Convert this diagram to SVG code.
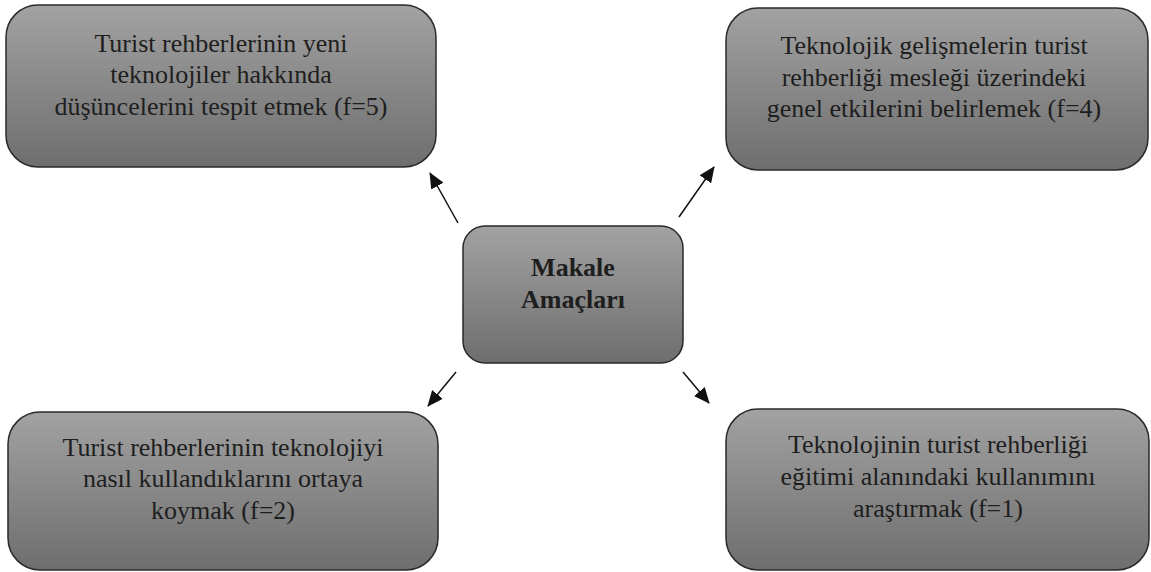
<svg xmlns="http://www.w3.org/2000/svg" width="1151" height="572" viewBox="0 0 1151 572">
<defs>
<linearGradient id="g" x1="0" y1="0" x2="0" y2="1">
<stop offset="0" stop-color="#a2a2a2"/>
<stop offset="1" stop-color="#6e6e6e"/>
</linearGradient>
<marker id="ah" markerWidth="16" markerHeight="14" refX="15" refY="7" orient="auto" markerUnits="userSpaceOnUse" viewBox="0 0 16 14">
<path d="M0,0 L16,7 L0,14 z" fill="#111"/>
</marker>
<style>
.box{fill:url(#g);stroke:#2a2a2a;stroke-width:1.5}
.t{font-family:"Liberation Serif","Times New Roman",serif;font-size:26px;fill:#1e1e1e;text-anchor:middle}
.b{font-weight:bold}
.c{stroke:#111;stroke-width:1.5;fill:none;marker-end:url(#ah)}
</style>
</defs>
<g id="connectors">
<line class="c" x1="458" y1="223" x2="430" y2="173"/>
<line class="c" x1="679" y1="217" x2="714" y2="167"/>
<line class="c" x1="456" y1="372" x2="428" y2="406"/>
<line class="c" x1="683" y1="372" x2="709" y2="403"/>
</g>
<g id="center">
<rect class="box" x="463" y="226" width="220" height="137" rx="22"/>
<text class="t b" x="573" y="276">Makale</text>
<text class="t b" x="573" y="308">Amaçları</text>
</g>
<g id="n1">
<rect class="box" x="6" y="5" width="430" height="162" rx="32"/>
<text class="t" x="221" y="52">Turist rehberlerinin yeni</text>
<text class="t" x="221" y="83">teknolojiler hakkında</text>
<text class="t" x="221" y="115">düşüncelerini tespit etmek (f=5)</text>
</g>
<g id="n2">
<rect class="box" x="726" y="8" width="422" height="162" rx="32"/>
<text class="t" x="934" y="54">Teknolojik gelişmelerin turist</text>
<text class="t" x="934" y="86">rehberliği mesleği üzerindeki</text>
<text class="t" x="934" y="117">genel etkilerini belirlemek (f=4)</text>
</g>
<g id="n3">
<rect class="box" x="8" y="412" width="430" height="158" rx="32"/>
<text class="t" x="223" y="456">Turist rehberlerinin teknolojiyi</text>
<text class="t" x="223" y="487">nasıl kullandıklarını ortaya</text>
<text class="t" x="223" y="519">koymak (f=2)</text>
</g>
<g id="n4">
<rect class="box" x="726" y="409" width="423" height="161" rx="32"/>
<text class="t" x="938" y="453">Teknolojinin turist rehberliği</text>
<text class="t" x="938" y="485">eğitimi alanındaki kullanımını</text>
<text class="t" x="938" y="517">araştırmak (f=1)</text>
</g>
</svg>
